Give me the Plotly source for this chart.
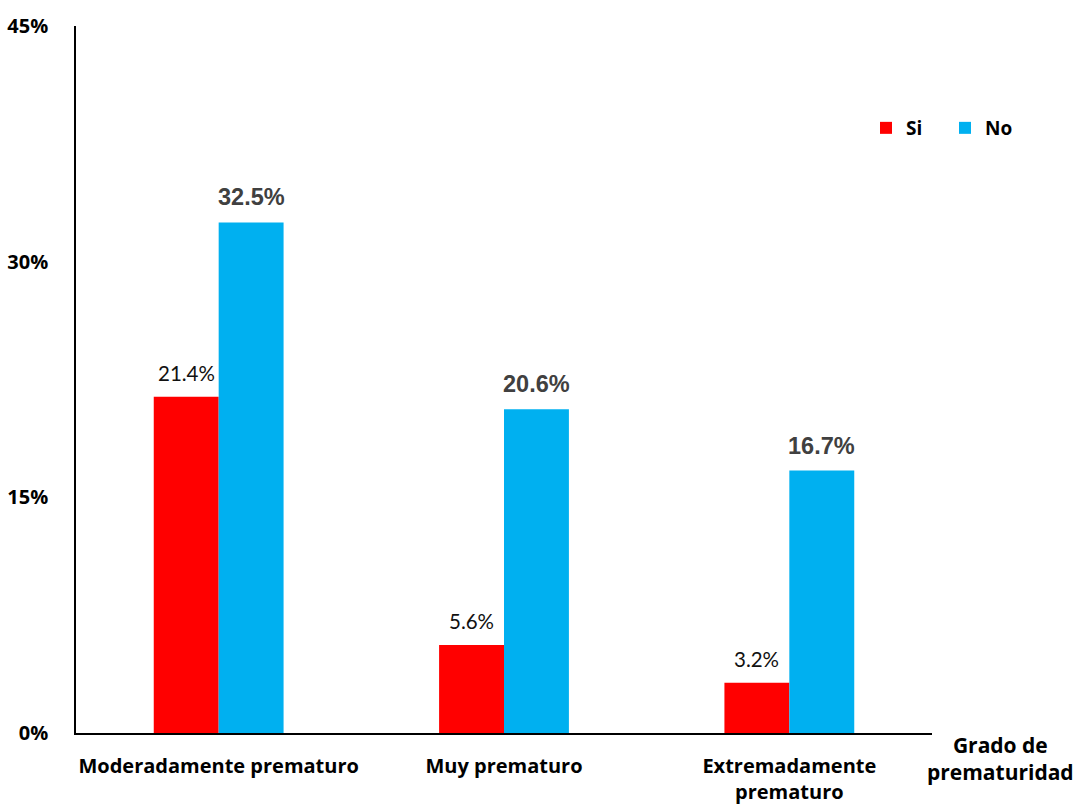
import plotly.graph_objects as go

categories = ["Moderadamente prematuro", "Muy prematuro", "Extremadamente<br>prematuro"]
si_values = [21.4, 5.6, 3.2]
no_values = [32.5, 20.6, 16.7]
y_ticks = [0, 15, 30, 45]
y_tick_labels = ["0%", "15%", "30%", "45%"]

L, R, T, B = 76, 932, 26, 733
W, H = 1079, 806

fig = go.Figure()
fig.add_trace(go.Bar(name="Si", x=categories, y=si_values, marker_color="#FF0000",
                     marker_line_width=0))
fig.add_trace(go.Bar(name="No", x=categories, y=no_values, marker_color="#00B0F0",
                     marker_line_width=0))

ann = []
for c, v in zip(categories, si_values):
    ann.append(dict(x=c, y=v, xref="x", yref="y", text=f"{v:.1f}%", showarrow=False,
                    xshift=-32.5, yshift=10, yanchor="bottom",
                    font=dict(family="Lato, Open Sans, sans-serif", size=20.5, color="#111111")))
for c, v in zip(categories, no_values):
    ann.append(dict(x=c, y=v, xref="x", yref="y", text=f"<b>{v:.1f}%</b>", showarrow=False,
                    xshift=32.5, yshift=10, yanchor="bottom",
                    font=dict(family="Liberation Sans, Arial, sans-serif", size=23.5, color="#404040")))
ann.append(dict(x=(1000 - L) / (R - L), y=(B - 758) / (B - T), xref="paper", yref="paper",
                xanchor="center", yanchor="middle",
                text="<b>Grado de<br>prematuridad</b>", showarrow=False,
                font=dict(family="Open Sans, sans-serif", size=21, color="black")))

fig.update_layout(
    width=W, height=H,
    margin=dict(l=L, r=W - R, t=T, b=H - B, autoexpand=False),
    paper_bgcolor="white", plot_bgcolor="white",
    barmode="group", bargap=0.545, bargroupgap=0,
    showlegend=True,
    legend=dict(orientation="h", xref="container", yref="container",
                x=866 / W, y=1 - 128 / H, xanchor="left", yanchor="middle",
                font=dict(family="Open Sans, sans-serif", size=19, color="black", weight="bold"),
                entrywidth=34, tracegroupgap=0, bgcolor="rgba(0,0,0,0)"),
    annotations=ann,
    font=dict(family="Open Sans, sans-serif", color="black"),
)
fig.update_xaxes(showline=True, linecolor="black", linewidth=1.5, ticks="",
                 tickfont=dict(family="Open Sans, sans-serif", size=20, color="black", weight="bold"),
                 ticklabelstandoff=14, showgrid=False)
fig.update_yaxes(range=[0, 45], tickvals=y_ticks, ticktext=y_tick_labels,
                 showline=True, linecolor="black", linewidth=1.5, ticks="",
                 ticklabelstandoff=22, showgrid=False, zeroline=False,
                 tickfont=dict(family="Open Sans, sans-serif", size=20, color="black", weight="bold"))
fig.write_html("out.html")
